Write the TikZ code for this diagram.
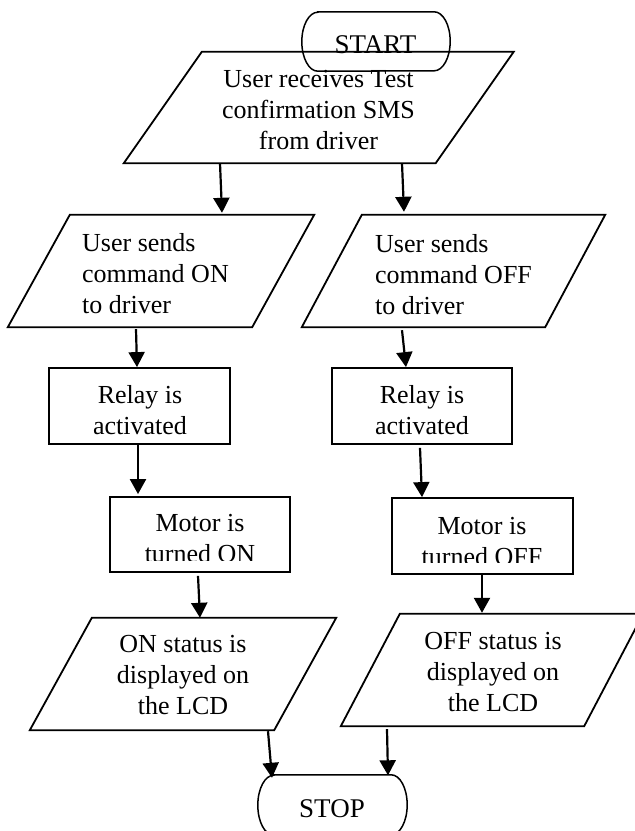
\documentclass[tikz,border=0pt]{standalone}
\usepackage{fontspec}
\setmainfont{Liberation Serif}
\usetikzlibrary{arrows.meta}

\tikzset{
  body/.style={font=\fontsize{26pt}{31pt}\selectfont, inner sep=0pt},
  termtext/.style={font=\fontsize{27pt}{31pt}\selectfont, inner sep=0pt, anchor=base},
  frame/.style={draw=none, inner sep=0pt},
  procbox/.style={draw, line width=1.8pt, inner sep=0pt},
  outline/.style={line width=1.8pt, line join=miter},
  termline/.style={line width=1.5pt},
  arr/.style={-{Triangle[length=15pt,width=16pt]}, line width=2.2pt},
}

\begin{document}
\begin{tikzpicture}[x=1pt, y=-1pt]
\useasboundingbox (0,0) rectangle (635,831);
\clip (0,0) rectangle (635,831);

% ---- frames of the shapes ----
\node[frame, minimum width=148pt, minimum height=59pt] (start) at (376,41.5) {};
\node[frame, minimum width=311.5pt, minimum height=111pt] (recv) at (318.75,107.5) {};
\node[frame, minimum width=244pt, minimum height=112pt] (cmdon) at (161,271) {};
\node[frame, minimum width=243pt, minimum height=112pt] (cmdoff) at (453.5,271) {};
\node[procbox, minimum width=181pt, minimum height=76pt] (relL) at (139.5,406) {};
\node[procbox, minimum width=180pt, minimum height=76pt] (relR) at (422,406) {};
\node[procbox, minimum width=180pt, minimum height=75pt] (motL) at (200,534.5) {};
\node[procbox, minimum width=181pt, minimum height=76pt] (motR) at (482.5,536) {};
\node[frame, minimum width=244pt, minimum height=112pt] (dispL) at (183,674) {};
\node[frame, minimum width=243pt, minimum height=112pt] (dispR) at (492,670) {};
\node[frame, minimum width=149pt, minimum height=60pt] (stop) at (332.5,805) {};

% ---- parallelogram outlines (input / output) ----
\foreach \n/\s in {recv/39, cmdon/31, cmdoff/30, dispL/31, dispR/29.5}
  \draw[outline] ([xshift=\s pt]\n.north west) -- ([xshift=\s pt]\n.north east)
     -- ([xshift=-\s pt]\n.south east) -- ([xshift=-\s pt]\n.south west) -- cycle;

% ---- terminal outlines ----
\foreach \n/\rx/\ry in {start/16/29.5, stop/16/30}
  \draw[termline] ([xshift=\rx pt]\n.north west) -- ([xshift=-\rx pt]\n.north east)
     arc[start angle=90, end angle=-90, x radius=\rx pt, y radius=\ry pt]
     -- ([xshift=\rx pt]\n.south west)
     arc[start angle=270, end angle=90, x radius=\rx pt, y radius=\ry pt] -- cycle;

% ---- texts ----
\node[termtext] (startT) at (375.5,53) {START};
\node[body, align=center, anchor=north] (recvT) at (318.5,70)
  {User receives Test\\confirmation SMS\\from driver};
\node[body, align=left, anchor=north west] (cmdonT) at (82,233.3)
  {User sends\\command ON\\to driver};
\node[body, align=left, anchor=north west] (cmdoffT) at (375,234.3)
  {User sends\\command OFF\\to driver};
\node[body, align=center, anchor=north] (relLT) at (140,385.3) {Relay is\\activated};
\node[body, align=center, anchor=north] (relRT) at (422,385.3) {Relay is\\activated};
\begin{scope}
  \clip (110,497) rectangle (290,560.5);
  \node[body, align=center, anchor=north] (motLT) at (200,514.3) {Motor is\\turned ON};
\end{scope}
\begin{scope}
  \clip (392,498) rectangle (573,562.3);
  \node[body, align=center, anchor=north] (motRT) at (482,516.6) {Motor is\\turned OFF};
\end{scope}
\node[body, align=center, anchor=north] (dispLT) at (183,635.3)
  {ON status is\\displayed on\\the LCD};
\node[body, align=center, anchor=north] (dispRT) at (493,632.3)
  {OFF status is\\displayed on\\the LCD};
\node[termtext] (stopT) at (332,817) {STOP};

% ---- connectors ----
\draw[arr] ([xshift=-98.75pt]recv.south) -- ([xshift=61pt,yshift=2pt]cmdon.north);
\draw[arr] ([xshift=83.25pt]recv.south) -- ([xshift=-49.5pt,yshift=3pt]cmdoff.north);
\draw[arr] ([xshift=-25pt,yshift=-2pt]cmdon.south) -- ([xshift=-2.5pt]relL.north);
\draw[arr] ([xshift=-51.5pt,yshift=-3pt]cmdoff.south) -- ([xshift=-16pt]relR.north);
\draw[arr] ([xshift=-1.5pt]relL.south) -- ([xshift=-62pt,yshift=2pt]motL.north);
\draw[arr] ([xshift=-2pt,yshift=-3pt]relR.south) -- ([xshift=-60.5pt]motR.north);
\draw[arr] ([xshift=-2pt,yshift=-3pt]motL.south) -- ([xshift=17pt]dispL.north);
\draw[arr] ([xshift=-0.5pt]motR.south) -- ([xshift=-10pt,yshift=1pt]dispR.north);
\draw[arr] ([xshift=85pt,yshift=-1pt]dispL.south) -- ([xshift=-60.5pt,yshift=-3pt]stop.north);
\draw[arr] ([xshift=-105pt,yshift=-3pt]dispR.south) -- ([xshift=55.5pt,yshift=-0.5pt]stop.north);
\end{tikzpicture}
\end{document}
